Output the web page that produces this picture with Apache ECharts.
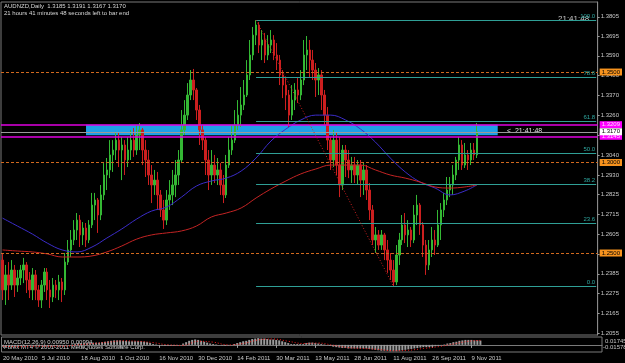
<!DOCTYPE html>
<html><head><meta charset="utf-8">
<script src="https://cdn.jsdelivr.net/npm/echarts@6/dist/echarts.min.js"></script>
<style>html,body{margin:0;padding:0;background:#000}#c{width:625px;height:363px}</style>
</head><body><div id="c"></div>
<script>
// ---- data (AUDNZD Daily, ~2.5 sessions per category) ----
const closeP = [
1.2296,1.2379,1.2323,1.2406,1.2323,1.2362,1.2406,1.2434,1.2351,1.2296,
1.2379,1.2296,1.2240,1.2323,1.2395,1.2296,1.2257,1.2323,1.2296,1.2340,
1.2296,1.2450,1.2517,1.2572,1.2627,1.2682,1.2600,1.2638,1.2572,1.2655,
1.2765,1.2793,1.2710,1.2821,1.2931,1.2959,1.3042,1.3069,1.3124,1.3069,
1.3097,1.3014,1.3069,1.3124,1.3069,1.3152,1.3180,1.3069,1.3014,1.2931,
1.2876,1.2903,1.2821,1.2738,1.2682,1.2793,1.2821,1.2876,1.2931,1.3014,
1.3180,1.3262,1.3373,1.3456,1.3401,1.3290,1.3180,1.3124,1.3014,1.2931,
1.2986,1.2931,1.2959,1.2876,1.2821,1.2986,1.3069,1.3124,1.3207,1.3262,
1.3318,1.3373,1.3484,1.3594,1.3704,1.3760,1.3649,1.3677,1.3594,1.3649,
1.3677,1.3594,1.3566,1.3484,1.3428,1.3373,1.3262,1.3345,1.3401,1.3373,
1.3456,1.3594,1.3622,1.3566,1.3511,1.3456,1.3484,1.3373,1.3262,1.3124,
1.3014,1.3124,1.2986,1.2876,1.3069,1.3014,1.2959,1.2986,1.2931,1.2986,
1.2903,1.2959,1.2848,1.2738,1.2572,1.2600,1.2544,1.2600,1.2517,1.2461,
1.2406,1.2340,1.2489,1.2572,1.2655,1.2600,1.2627,1.2572,1.2710,1.2765,
1.2655,1.2544,1.2434,1.2517,1.2572,1.2544,1.2655,1.2738,1.2793,1.2848,
1.2876,1.2931,1.3014,1.3097,1.2986,1.3042,1.3014,1.3069,1.3042,1.3170];
const openP = [
1.2461,1.2296,1.2379,1.2323,1.2406,1.2323,1.2362,1.2406,1.2434,1.2351,
1.2296,1.2379,1.2296,1.2240,1.2323,1.2395,1.2296,1.2257,1.2323,1.2296,
1.2340,1.2296,1.2450,1.2517,1.2572,1.2627,1.2682,1.2600,1.2638,1.2572,
1.2655,1.2765,1.2793,1.2710,1.2821,1.2931,1.2959,1.3042,1.3069,1.3124,
1.3069,1.3097,1.3014,1.3069,1.3124,1.3069,1.3152,1.3180,1.3069,1.3014,
1.2931,1.2876,1.2903,1.2821,1.2738,1.2682,1.2793,1.2821,1.2876,1.2931,
1.3014,1.3180,1.3262,1.3373,1.3456,1.3401,1.3290,1.3180,1.3124,1.3014,
1.2931,1.2986,1.2931,1.2959,1.2876,1.2821,1.2986,1.3069,1.3124,1.3207,
1.3262,1.3318,1.3373,1.3484,1.3594,1.3704,1.3760,1.3649,1.3677,1.3594,
1.3649,1.3677,1.3594,1.3566,1.3484,1.3428,1.3373,1.3262,1.3345,1.3401,
1.3373,1.3456,1.3594,1.3622,1.3566,1.3511,1.3456,1.3484,1.3373,1.3262,
1.3124,1.3014,1.3124,1.2986,1.2876,1.3069,1.3014,1.2959,1.2986,1.2931,
1.2986,1.2903,1.2959,1.2848,1.2738,1.2572,1.2600,1.2544,1.2600,1.2517,
1.2461,1.2406,1.2340,1.2489,1.2572,1.2655,1.2600,1.2627,1.2572,1.2710,
1.2765,1.2655,1.2544,1.2434,1.2517,1.2572,1.2544,1.2655,1.2738,1.2793,
1.2848,1.2876,1.2931,1.3014,1.3097,1.2986,1.3042,1.3014,1.3069,1.3042];
const highP = [
1.2500,1.2434,1.2450,1.2461,1.2434,1.2406,1.2434,1.2473,1.2450,1.2395,
1.2417,1.2406,1.2323,1.2351,1.2417,1.2417,1.2351,1.2362,1.2351,1.2379,
1.2362,1.2500,1.2572,1.2627,1.2682,1.2721,1.2710,1.2671,1.2666,1.2682,
1.2832,1.2832,1.2804,1.2876,1.2997,1.3025,1.3124,1.3124,1.3169,1.3163,
1.3141,1.3124,1.3141,1.3180,1.3191,1.3207,1.3218,1.3191,1.3124,1.3069,
1.2986,1.2959,1.2948,1.2848,1.2793,1.2848,1.2903,1.2959,1.3014,1.3069,
1.3290,1.3345,1.3439,1.3511,1.3517,1.3412,1.3318,1.3207,1.3141,1.3069,
1.3069,1.3042,1.3025,1.2997,1.2931,1.3042,1.3141,1.3207,1.3290,1.3345,
1.3417,1.3456,1.3566,1.3677,1.3749,1.3787,1.3776,1.3732,1.3716,1.3704,
1.3732,1.3704,1.3660,1.3594,1.3511,1.3472,1.3401,1.3428,1.3439,1.3472,
1.3511,1.3677,1.3699,1.3677,1.3622,1.3550,1.3522,1.3511,1.3401,1.3307,
1.3141,1.3180,1.3163,1.3141,1.3097,1.3097,1.3069,1.3031,1.3031,1.3014,
1.3014,1.2997,1.2986,1.2887,1.2765,1.2644,1.2627,1.2627,1.2611,1.2572,
1.2500,1.2461,1.2544,1.2611,1.2710,1.2721,1.2682,1.2644,1.2765,1.2821,
1.2776,1.2671,1.2572,1.2572,1.2644,1.2627,1.2738,1.2776,1.2832,1.2920,
1.2920,1.2986,1.3031,1.3141,1.3124,1.3108,1.3069,1.3108,1.3108,1.3218];
const lowP = [
1.2240,1.2213,1.2240,1.2296,1.2257,1.2285,1.2323,1.2334,1.2279,1.2251,
1.2240,1.2240,1.2202,1.2196,1.2285,1.2240,1.2196,1.2229,1.2251,1.2240,
1.2229,1.2268,1.2434,1.2478,1.2544,1.2572,1.2533,1.2544,1.2533,1.2555,
1.2638,1.2682,1.2611,1.2682,1.2793,1.2848,1.2914,1.2948,1.3014,1.2975,
1.2903,1.2931,1.2975,1.3014,1.3031,1.3042,1.3069,1.2986,1.2920,1.2876,
1.2776,1.2821,1.2738,1.2699,1.2633,1.2655,1.2738,1.2765,1.2809,1.2876,
1.2997,1.3152,1.3235,1.3345,1.3345,1.3235,1.3097,1.3069,1.2931,1.2848,
1.2876,1.2887,1.2876,1.2821,1.2776,1.2804,1.2970,1.3042,1.3108,1.3180,
1.3196,1.3290,1.3362,1.3456,1.3566,1.3649,1.3605,1.3566,1.3550,1.3566,
1.3605,1.3566,1.3511,1.3428,1.3356,1.3290,1.3196,1.3235,1.3290,1.3329,
1.3345,1.3428,1.3511,1.3472,1.3456,1.3362,1.3373,1.3290,1.3207,1.3069,
1.2959,1.2975,1.2931,1.2809,1.2848,1.2920,1.2914,1.2887,1.2887,1.2876,
1.2809,1.2821,1.2793,1.2682,1.2544,1.2500,1.2517,1.2517,1.2461,1.2390,
1.2351,1.2318,1.2323,1.2434,1.2544,1.2555,1.2533,1.2533,1.2555,1.2655,
1.2600,1.2478,1.2379,1.2406,1.2478,1.2489,1.2533,1.2572,1.2699,1.2765,
1.2809,1.2821,1.2903,1.2959,1.2959,1.2970,1.2959,1.2986,1.3014,1.3025];

// moving averages, read every 5th category
const maIdx  = [0,5,10,15,20,25,30,35,40,45,50,55,60,65,70,75,80,85,90,95,100,105,110,115,120,125,130,135,140,145,150,155,159];
const blueMA = [1.2693,1.2649,1.2605,1.2555,1.2517,1.2506,1.2533,1.2583,1.2633,1.2688,1.2732,1.2754,1.2809,1.2870,1.2898,1.2914,1.2953,1.3025,1.3119,1.3185,1.3235,1.3262,1.3262,1.3235,1.3185,1.3113,1.3025,1.2948,1.2892,1.2859,1.2821,1.2843,1.2876];
const redMA  = [1.2517,1.2511,1.2506,1.2495,1.2478,1.2478,1.2484,1.2506,1.2539,1.2577,1.2600,1.2611,1.2622,1.2649,1.2699,1.2721,1.2749,1.2804,1.2854,1.2898,1.2937,1.2964,1.2986,1.2986,1.2986,1.2959,1.2931,1.2914,1.2892,1.2865,1.2859,1.2865,1.2876];

// MACD histogram per category and signal every 5th category
const macdHist = [
-0.004,-0.005,-0.005,-0.005,-0.004,-0.004,-0.003,-0.003,-0.002,-0.002,
-0.002,-0.002,-0.003,-0.003,-0.003,-0.003,-0.003,-0.003,-0.003,-0.003,
-0.002,-0.001,0.000,0.001,0.003,0.004,0.004,0.004,0.004,0.004,
0.005,0.005,0.005,0.006,0.007,0.008,0.009,0.010,0.010,0.010,
0.009,0.009,0.008,0.008,0.008,0.008,0.008,0.007,0.006,0.004,
0.002,0.001,0.000,-0.001,-0.002,-0.002,-0.002,-0.002,-0.001,0.000,
0.003,0.006,0.009,0.011,0.012,0.011,0.009,0.007,0.005,0.003,
0.002,0.001,0.000,-0.001,-0.002,-0.001,0.000,0.002,0.004,0.006,
0.008,0.009,0.011,0.013,0.014,0.015,0.014,0.014,0.013,0.012,
0.012,0.011,0.010,0.008,0.006,0.004,0.002,0.002,0.002,0.002,
0.002,0.004,0.005,0.005,0.004,0.003,0.002,0.001,0.000,-0.002,
-0.004,-0.005,-0.006,-0.007,-0.007,-0.008,-0.008,-0.008,-0.008,-0.008,
-0.008,-0.008,-0.009,-0.010,-0.011,-0.012,-0.013,-0.013,-0.013,-0.014,
-0.014,-0.014,-0.013,-0.012,-0.011,-0.010,-0.009,-0.008,-0.007,-0.006,
-0.005,-0.005,-0.005,-0.004,-0.003,-0.002,-0.001,0.001,0.003,0.004,
0.006,0.007,0.009,0.010,0.011,0.011,0.011,0.010,0.010,0.0095];
const macdSignal = [-0.003,-0.004,-0.003,-0.003,-0.003,0.000,0.003,0.006,0.009,0.008,0.005,0.000,-0.001,0.008,0.006,0.000,0.003,0.011,0.013,0.008,0.003,0.004,-0.001,-0.006,-0.008,-0.010,-0.013,-0.012,-0.008,-0.004,0.002,0.008,0.00994];

const priceTicks = [1.3805,1.3695,1.3590,1.3480,1.3370,1.3260,1.3150,1.3040,1.2930,1.2825,1.2715,1.2605,1.2495,1.2385,1.2275,1.2165,1.2055];
const dateLabels = ['20 May 2010','5 Jul 2010','18 Aug 2010','1 Oct 2010','16 Nov 2010','30 Dec 2010','14 Feb 2011','30 Mar 2011','13 May 2011','28 Jun 2011','11 Aug 2011','26 Sep 2011','9 Nov 2011'];
const roundLevels = [1.3500, 1.3000, 1.2500];
const zoneLevels = [1.3209, 1.3145];
const bidPrice = 1.3170;
const fibHigh = 1.3787, fibLow = 1.2318;
const fibHighIdx = 85, fibLowIdx = 131;
const fibRatios = [1.0, 0.786, 0.618, 0.5, 0.382, 0.236, 0.0];
const fibTexts = ['100.0','78.6','61.8','50.0','38.2','23.6','0.0'];
const zoneStartIdx = 28, zoneEndIdx = 166;
const totalCats = 200;
const labelStep = 13;

// ---- build ----
const FONT = '"Liberation Sans", Arial, sans-serif';
const Y_MIN = 1.2047, Y_MAX = 1.3887;
const cats = Array.from({length: totalCats}, (_, i) => String(i));
const candles = closeP.map((c, i) => [openP[i], c, lowP[i], highP[i]]);
const isLbl = (idx) => idx % labelStep === 0 && idx / labelStep < dateLabels.length;

const mlData = [];
roundLevels.forEach(v => mlData.push({yAxis: v, lineStyle: {color: '#d2691e', type: [3, 2], width: 1}}));
zoneLevels.forEach(v => mlData.push({yAxis: v, lineStyle: {color: '#e000e0', type: 'solid', width: 1.5}}));
mlData.push({yAxis: bidPrice, lineStyle: {color: '#9a9a9a', type: 'solid', width: 1}});
fibRatios.forEach((r, k) => {
  const lv = fibLow + r * (fibHigh - fibLow);
  mlData.push([
    {coord: [String(fibHighIdx), lv], lineStyle: {color: '#2f9f96', type: 'solid', width: 1},
     label: {show: true, position: 'insideEndTop', distance: 1, formatter: fibTexts[k], color: '#2fa8a0', fontSize: 6, fontFamily: FONT}},
    {coord: [String(totalCats - 1), lv]}
  ]);
});
mlData.push([
  {coord: [String(fibHighIdx), fibHigh], lineStyle: {color: '#d02020', type: [1, 2], width: 1}, label: {show: false}},
  {coord: [String(fibLowIdx), fibLow]}
]);

function boxAxis(values, bg, fg, z) {
  return {type: 'value', gridIndex: 0, position: 'right', min: Y_MIN, max: Y_MAX, z: z,
    splitLine: {show: false}, axisLine: {show: false}, axisTick: {show: false},
    axisLabel: {show: true, customValues: values, formatter: (v) => v.toFixed(4), color: fg, backgroundColor: bg,
      fontSize: 6, fontFamily: FONT, padding: [1, 2, 0, 2], margin: 2}};
}

const option = {
  backgroundColor: '#000',
  animation: false,
  grid: [
    {left: 1, top: 2, width: 601, height: 333, show: true, borderColor: '#7a7a7a', borderWidth: 1},
    {left: 1, top: 337, width: 601, height: 15, show: true, borderColor: '#7a7a7a', borderWidth: 1}
  ],
  xAxis: [
    {type: 'category', gridIndex: 0, data: cats, axisLine: {show: false}, axisTick: {show: false}, axisLabel: {show: false}, splitLine: {show: false}},
    {type: 'category', gridIndex: 1, data: cats, axisLine: {show: true, lineStyle: {color: '#7a7a7a'}},
     axisTick: {show: true, interval: (i) => isLbl(i), length: 3, alignWithLabel: true, lineStyle: {color: '#9a9a9a'}},
     axisLabel: {show: true, interval: (i) => isLbl(i), formatter: (v, i) => dateLabels[i / labelStep], align: 'left', color: '#c8c8c8', fontSize: 6, fontFamily: FONT, margin: 3},
     splitLine: {show: false}}
  ],
  yAxis: [
    {type: 'value', gridIndex: 0, position: 'right', min: Y_MIN, max: Y_MAX, splitLine: {show: false},
     axisLine: {show: true, lineStyle: {color: '#8a8a8a'}},
     axisTick: {show: true, customValues: priceTicks, length: 2, lineStyle: {color: '#9a9a9a'}},
     axisLabel: {show: true, customValues: priceTicks, formatter: (v) => v.toFixed(4), color: '#c8c8c8', fontSize: 6, fontFamily: FONT, margin: 3}},
    {type: 'value', gridIndex: 1, position: 'right', min: -0.01578, max: 0.01745, splitLine: {show: false},
     axisLine: {show: false}, axisTick: {show: false}, axisLabel: {show: false}},
    boxAxis(roundLevels, '#f7931e', '#000', 5),
    boxAxis(zoneLevels, '#ff00ff', '#ffd6ff', 6),
    boxAxis([bidPrice], '#ffffff', '#000', 7)
  ],
  series: [
    {type: 'candlestick', xAxisIndex: 0, yAxisIndex: 0, data: candles, barWidth: 2, barMaxWidth: 2, z: 3,
     itemStyle: {color: '#34b834', color0: '#cc1f1f', borderColor: '#34b834', borderColor0: '#cc1f1f', borderWidth: 1},
     markArea: {silent: true, itemStyle: {color: '#1e9fe8', opacity: 1},
       data: [[{coord: [String(zoneStartIdx), zoneLevels[0]]}, {coord: [String(zoneEndIdx), zoneLevels[1] + 0.0006]}]]},
     markLine: {silent: true, precision: 4, symbol: ['none', 'none'], animation: false, label: {show: false}, data: mlData}},
    {type: 'line', xAxisIndex: 0, yAxisIndex: 0, data: maIdx.map((k, j) => [String(k), blueMA[j]]), smooth: 0.4, showSymbol: false,
     lineStyle: {color: '#3b2cc8', width: 1}, z: 4},
    {type: 'line', xAxisIndex: 0, yAxisIndex: 0, data: maIdx.map((k, j) => [String(k), redMA[j]]), smooth: 0.4, showSymbol: false,
     lineStyle: {color: '#c42424', width: 1}, z: 4},
    {type: 'bar', xAxisIndex: 1, yAxisIndex: 1, data: macdHist, barWidth: 2, itemStyle: {color: '#9c9c9c'}},
    {type: 'line', xAxisIndex: 1, yAxisIndex: 1, data: maIdx.map((k, j) => [String(k), macdSignal[j]]), smooth: 0.4, showSymbol: false,
     lineStyle: {color: '#ff2020', width: 1, type: [1, 2]}}
  ],
  graphic: [
    {type: 'text', left: 4, top: 3, style: {text: 'AUDNZD,Daily  1.3185 1.3191 1.3167 1.3170', fill: '#d8d8d8', fontSize: 6, fontFamily: FONT}},
    {type: 'text', left: 4, top: 10, style: {text: '21 hours 41 minutes 48 seconds left to bar end', fill: '#d8d8d8', fontSize: 6, fontFamily: FONT}},
    {type: 'text', left: 558, top: 15, style: {text: '21:41:48', fill: '#c8c8c8', fontSize: 8, fontFamily: FONT}},
    {type: 'text', left: 507, top: 128, style: {text: '<  21:41:48', fill: '#e0e0e0', fontSize: 7, fontFamily: FONT}},
    {type: 'text', left: 4, top: 339, style: {text: 'MACD(12,26,9) 0.00950 0.00994', fill: '#d0d0d0', fontSize: 6, fontFamily: FONT}},
    {type: 'text', left: 4, top: 344, style: {text: 'Forex MT4 \u00a9 2001-2011 MetaQuotes Software Corp.', fill: '#d0d0d0', fontSize: 6, fontFamily: FONT}},
    {type: 'text', left: 605, top: 338, style: {text: '0.01745', fill: '#c8c8c8', fontSize: 6, fontFamily: FONT}},
    {type: 'text', left: 603, top: 344, style: {text: '-0.01578', fill: '#c8c8c8', fontSize: 6, fontFamily: FONT}}
  ]
};
echarts.init(document.getElementById('c'), null, {renderer: 'canvas'}).setOption(option);
</script>
</body></html>
